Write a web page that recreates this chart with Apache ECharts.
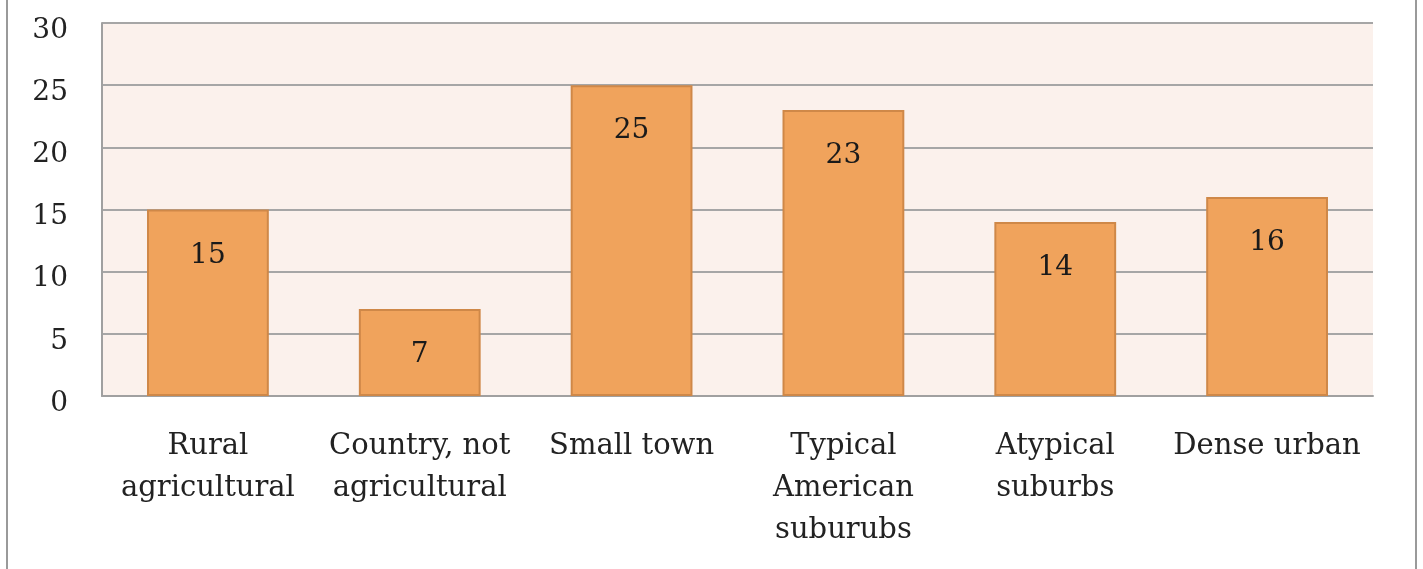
<!DOCTYPE html>
<html>
<head>
<meta charset="utf-8">
<script src="https://cdn.jsdelivr.net/npm/echarts@6/dist/echarts.min.js"></script>
<style>
html,body{margin:0;padding:0;background:#fff;}
#frame{position:absolute;left:6px;top:-5px;width:1411px;height:590px;border-left:2px solid #9a9a9a;border-right:2px solid #9a9a9a;box-sizing:border-box;}
#chart{position:absolute;left:0;top:0;width:1423px;height:569px;}
</style>
</head>
<body>
<div id="frame"></div>
<div id="chart"></div>
<script>
const categories = ["Rural\nagricultural", "Country, not\nagricultural", "Small town", "Typical\nAmerican\nsuburubs", "Atypical\nsuburbs", "Dense urban"];
const values = [15, 7, 25, 23, 14, 16];
const yTicks = [0, 5, 10, 15, 20, 25, 30];

const FONT = "'DejaVu Serif', 'Liberation Serif', serif";
const chart = echarts.init(document.getElementById('chart'));
chart.setOption({
  animation: false,
  grid: { left: 102, right: 50, top: 23, bottom: 173, show: true, backgroundColor: '#FBF1EC', borderWidth: 0 },
  xAxis: {
    type: 'category',
    data: categories,
    axisLine: { show: true, lineStyle: { color: '#A0A0A0', width: 2 } },
    axisTick: { show: false },
    axisLabel: { fontFamily: FONT, fontSize: 29, color: '#222', margin: 29, lineHeight: 42, interval: 0 }
  },
  yAxis: {
    type: 'value',
    min: yTicks[0],
    max: yTicks[yTicks.length - 1],
    interval: 5,
    axisLine: { show: true, lineStyle: { color: '#A0A0A0', width: 2 } },
    axisTick: { show: false },
    splitLine: { show: true, lineStyle: { color: '#A6A6A6', width: 2 } },
    axisLabel: {
      margin: 34,
      formatter: '{v|{value}}',
      rich: { v: { fontFamily: FONT, fontSize: 28, color: '#222', padding: [15, 0, 0, 0] } }
    }
  },
  series: [{
    type: 'bar',
    data: values,
    barWidth: '57.5%',
    itemStyle: { color: '#F0A35C', borderColor: '#CF8848', borderWidth: 2 },
    label: { show: true, position: 'insideTop', distance: 32, fontFamily: FONT, fontSize: 28, color: '#1a1a1a' }
  }]
});
</script>
</body>
</html>
